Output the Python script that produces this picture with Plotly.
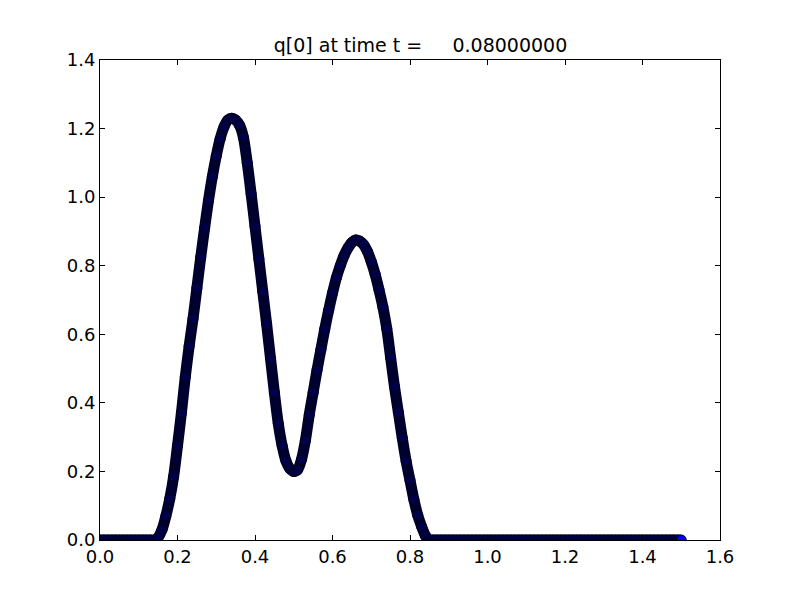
import plotly.graph_objects as go

# x grid (cell centres, step 0.01)
x_values = [round(i * 0.01, 2) for i in range(151)]

# q[0] values
q_left_zero = [0.0] * 14  # x = 0.00 .. 0.13
q_bumps = [
    0.0, 0.008, 0.03, 0.07, 0.12, 0.185, 0.275, 0.37, 0.475, 0.565,
    0.645, 0.735, 0.825, 0.91, 0.99, 1.06, 1.12, 1.17, 1.205, 1.225,
    1.23, 1.225, 1.21, 1.175, 1.10, 1.01, 0.915, 0.82, 0.725, 0.63,
    0.53, 0.43, 0.34, 0.275, 0.23, 0.208, 0.20, 0.205, 0.235, 0.29,
    0.365, 0.43, 0.495, 0.555, 0.615, 0.67, 0.72, 0.765, 0.80, 0.83,
    0.852, 0.868, 0.875, 0.872, 0.862, 0.842, 0.812, 0.775, 0.73, 0.68,
    0.617, 0.532, 0.447, 0.372, 0.298, 0.23, 0.174, 0.118, 0.072, 0.039,
    0.012, 0.0,
]  # x = 0.14 .. 0.85
q_right_zero = [0.0] * 65  # x = 0.86 .. 1.50
q_values = q_left_zero + q_bumps + q_right_zero

x_ticks = [0.0, 0.2, 0.4, 0.6, 0.8, 1.0, 1.2, 1.4, 1.6]
y_ticks = [0.0, 0.2, 0.4, 0.6, 0.8, 1.0, 1.2, 1.4]
title_text = "q[0] at time t =     0.08000000"

n = len(q_values)
fill_colors = ["#00004a"] * (n - 1) + ["#0000ff"]

fig = go.Figure()
fig.add_trace(go.Scatter(
    x=x_values, y=q_values, mode="lines",
    line=dict(color="#00002e", width=11, shape="spline", smoothing=0.8),
    hoverinfo="skip", showlegend=False,
))
fig.add_trace(go.Scatter(
    x=x_values, y=q_values, mode="markers",
    marker=dict(symbol="circle", size=10, color=fill_colors,
                line=dict(color="#000010", width=1)),
    showlegend=False,
))

axis_common = dict(
    showline=True, linecolor="black", linewidth=1, mirror="ticks",
    ticks="inside", ticklen=5, tickwidth=1, tickcolor="black",
    showgrid=False, zeroline=False,
    tickfont=dict(family="DejaVu Sans", size=18, color="black"),
)

fig.update_layout(
    width=800, height=600,
    margin=dict(l=92, r=88, t=52, b=68),
    paper_bgcolor="white", plot_bgcolor="white",
    title=dict(text=title_text.replace(" ", "\u00a0"), x=412.5 / 800, xanchor="center",
               y=1 - 37 / 600, yanchor="middle",
               font=dict(family="DejaVu Sans", size=19, color="black")),
    xaxis=dict(range=[0, 1.6], tickvals=x_ticks,
               ticktext=[f"{v:.1f}" for v in x_ticks], **axis_common),
    yaxis=dict(range=[0, 1.4], tickvals=y_ticks,
               ticktext=[f"{v:.1f}" for v in y_ticks], **axis_common),
)

fig.write_html("out.html")
